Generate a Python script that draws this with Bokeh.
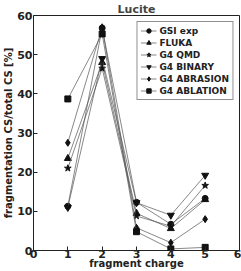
from bokeh.plotting import figure
from bokeh.models import Range1d, Legend, LegendItem, FixedTicker
from bokeh.embed import file_html
from bokeh.resources import INLINE

charge = [1, 2, 3, 4, 5]
gsi_exp = [11.3, 56.8, 12.3, 6.7, 13.3]
fluka = [23.5, 48.0, 9.5, 5.6, 13.0]
g4_qmd = [21.0, 46.5, 8.8, 6.2, 16.6]
g4_binary = [11.0, 49.0, 12.2, 9.0, 19.2]
g4_abrasion = [27.5, 57.0, 5.8, 2.0, 8.0]
g4_ablation = [38.7, 55.3, 4.8, 0.4, 0.8]
x_ticks = [0, 1, 2, 3, 4, 5, 6]
y_ticks = [0, 10, 20, 30, 40, 50, 60]

series = [
    ("GSI exp", gsi_exp, "circle", 6),
    ("FLUKA", fluka, "triangle", 7),
    ("G4 QMD", g4_qmd, "star", 7),
    ("G4 BINARY", g4_binary, "inverted_triangle", 7),
    ("G4 ABRASION", g4_abrasion, "diamond", 7),
    ("G4 ABLATION", g4_ablation, "square", 6),
]

FONT = "DejaVu Sans"

p = figure(width=241, height=271, output_backend="svg", toolbar_location=None,
           x_range=Range1d(0, 6), y_range=Range1d(0, 60),
           title="Lucite", min_border_left=1, min_border_right=2,
           min_border_top=0, min_border_bottom=0)
p.title.align = "center"
p.title.text_font = FONT
p.title.text_font_style = "bold"
p.title.text_font_size = "11px"
p.title.offset = 0
p.title.standoff = 0

p.xgrid.visible = False
p.ygrid.visible = False
p.outline_line_color = "#222222"
p.outline_line_width = 1

items = []
for name, ys, marker, sz in series:
    r1 = p.line(charge, ys, line_color="#555555", line_width=0.7)
    r2 = p.scatter(charge, ys, marker=marker, size=sz, fill_color="#111111",
                   line_color="#111111")
    items.append(LegendItem(label=name, renderers=[r1, r2]))

for ax in (p.xaxis[0], p.yaxis[0]):
    ax.major_label_text_font = FONT
    ax.major_label_text_font_style = "bold"
    ax.major_label_text_font_size = "11px"
    ax.axis_label_text_font = FONT
    ax.axis_label_text_font_style = "bold"
    ax.axis_label_text_font_size = "10px"
    ax.axis_label_text_color = "#222222"
    ax.major_label_text_color = "#222222"
    ax.major_tick_in = 4
    ax.major_tick_out = 0
    ax.minor_tick_in = 0
    ax.minor_tick_out = 0
    ax.axis_line_color = None
    ax.major_tick_line_color = "#222222"

p.xaxis[0].major_label_standoff = -1
p.xaxis[0].axis_label_standoff = -3
p.yaxis[0].major_label_standoff = 1
p.yaxis[0].axis_label_standoff = 0

p.xaxis[0].ticker = FixedTicker(ticks=x_ticks)
p.yaxis[0].ticker = FixedTicker(ticks=y_ticks)
p.xaxis[0].axis_label = "fragment charge"
p.yaxis[0].axis_label = "fragmentation CS/total CS [%]"

legend = Legend(items=items, location="top_right")
legend.label_text_font = FONT
legend.label_text_font_style = "bold"
legend.label_text_font_size = "9px"
legend.label_text_color = "#222222"
legend.glyph_width = 16
legend.glyph_height = 11
legend.label_height = 11
legend.spacing = 1
legend.padding = 3
legend.margin = 6
legend.border_line_color = "#222222"
legend.border_line_width = 1
legend.label_standoff = 3
p.add_layout(legend)

open("out.html", "w").write(file_html(p, INLINE))
